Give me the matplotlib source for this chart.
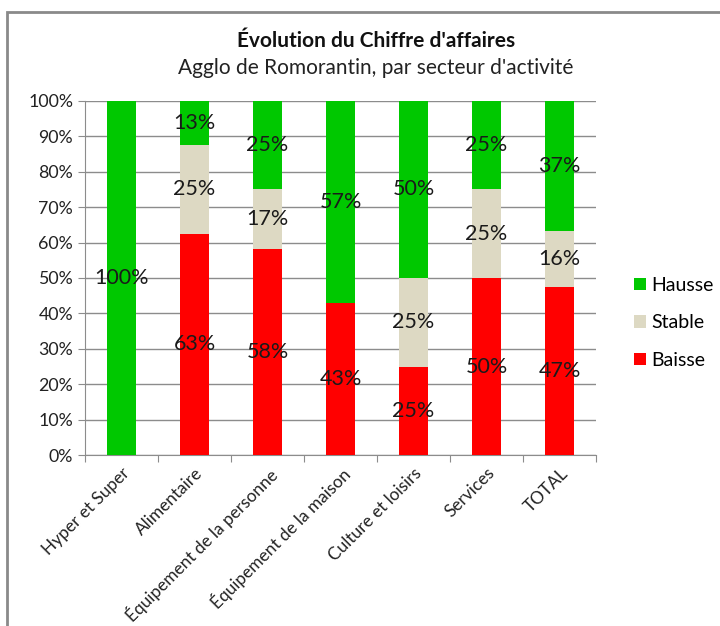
import matplotlib
matplotlib.use("Agg")
import matplotlib.pyplot as plt
import numpy as np
from matplotlib.patches import Rectangle
from matplotlib.transforms import ScaledTranslation

plt.rcParams['font.family'] = ['Lato', 'DejaVu Sans']

categories = ["Hyper et Super", "Alimentaire", "Équipement de la personne",
              "Équipement de la maison", "Culture et loisirs", "Services", "TOTAL"]
baisse = [0.0, 62.5, 58.3, 42.9, 25.0, 50.0, 47.4]
stable = [0.0, 25.0, 16.7, 0.0, 25.0, 25.0, 15.8]
hausse = [100.0, 12.5, 25.0, 57.1, 50.0, 25.0, 36.8]
yticks = list(range(0, 101, 10))

col_baisse = "#FF0000"
col_stable = "#DDD9C3"
col_hausse = "#00C800"

fig = plt.figure(figsize=(7.2, 6.26), dpi=100)
ax = fig.add_axes([0.118, 0.273, 0.710, 0.566])

x = np.arange(len(categories))
w = 0.4
b1 = ax.bar(x, baisse, w, color=col_baisse, label="Baisse", zorder=3)
b2 = ax.bar(x, stable, w, bottom=baisse, color=col_stable, label="Stable", zorder=3)
bot3 = [a + b for a, b in zip(baisse, stable)]
b3 = ax.bar(x, hausse, w, bottom=bot3, color=col_hausse, label="Hausse", zorder=3)

for vals, bots in [(baisse, [0]*7), (stable, baisse), (hausse, bot3)]:
    for xi, v, bt in zip(x, vals, bots):
        if v > 0:
            ax.text(xi, bt + v / 2, f"{int(v + 0.5)}%", ha="center", va="center",
                    fontsize=15.5, color="#1a1a1a", zorder=4)

ax.set_xlim(-0.5, len(categories) - 0.5)
ax.set_ylim(0, 100)
ax.set_yticks(yticks)
ax.set_yticklabels([f"{t}%" for t in yticks], fontsize=12.8, color="#222222")
ax.yaxis.grid(True, color="#8c8c8c", linewidth=1, zorder=0)
ax.set_axisbelow(True)

ax.set_xticks(np.arange(len(categories) + 1) - 0.5)
ax.set_xticklabels([])
ax.set_xticks(x, minor=True)
ax.set_xticklabels(categories, minor=True, rotation=45, ha="right",
                   rotation_mode="anchor", fontsize=12.4, color="#222222")
for lab in ax.get_xticklabels(minor=True):
    lab.set_transform(lab.get_transform() + ScaledTranslation(13/100, 1/100, fig.dpi_scale_trans))
ax.tick_params(axis="x", which="minor", length=0, pad=7)
ax.tick_params(axis="x", which="major", length=5, color="#8c8c8c")
ax.tick_params(axis="y", length=5, color="#8c8c8c")

for s in ["top", "right"]:
    ax.spines[s].set_visible(False)
for s in ["left", "bottom"]:
    ax.spines[s].set_color("#8c8c8c")

handles = [b3, b2, b1]
ax.legend(handles, ["Hausse", "Stable", "Baisse"], loc="center left",
          bbox_to_anchor=(1.04, 0.373), frameon=False, fontsize=14,
          handlelength=0.6, handleheight=0.6, handletextpad=0.3, labelspacing=1.05)

fig.text(0.522, 0.935, "Évolution du Chiffre d'affaires", ha="center", va="center",
         fontsize=15, fontweight="bold", color="#111111")
fig.text(0.522, 0.891, "Agglo de Romorantin, par secteur d'activité", ha="center",
         va="center", fontsize=15, color="#222222")

fig.patches.append(Rectangle((0.010, -0.05), 1.1, 0.05 + 0.981, transform=fig.transFigure,
                             fill=False, edgecolor="#8a8a8a", linewidth=2))

fig.savefig("out.png", dpi=100)
